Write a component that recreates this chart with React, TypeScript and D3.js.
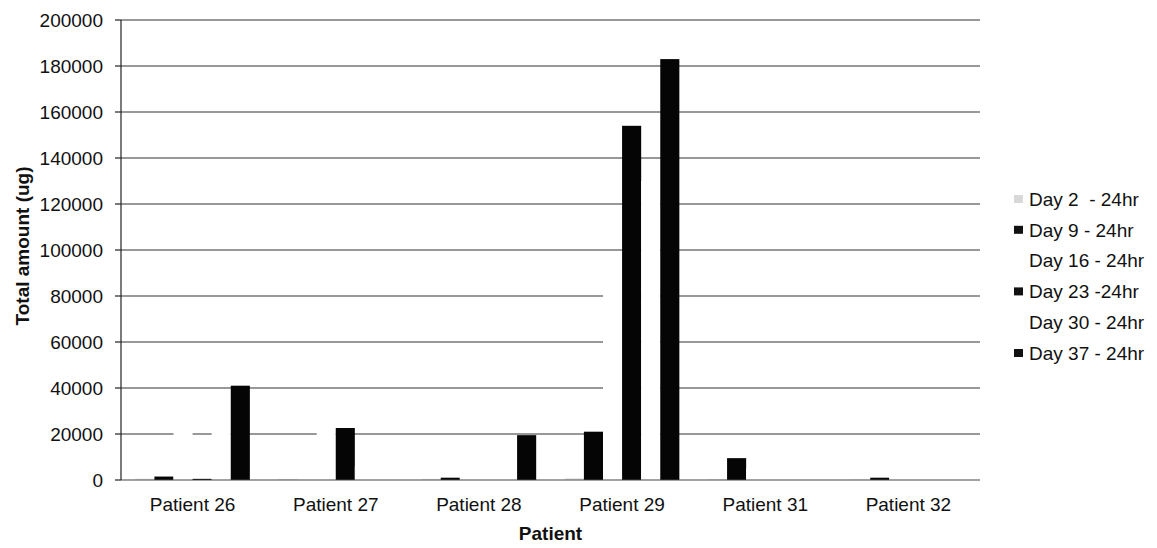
import React from 'react'
import * as d3 from 'd3'

const patients = ['Patient 26', 'Patient 27', 'Patient 28', 'Patient 29', 'Patient 31', 'Patient 32']
const seriesNames = ['Day 2  - 24hr', 'Day 9 - 24hr', 'Day 16 - 24hr', 'Day 23 -24hr', 'Day 30 - 24hr', 'Day 37 - 24hr']
const seriesColors = ['#e6e6e6', '#050505', '#ffffff', '#050505', '#ffffff', '#050505']
const markerColors = ['#d8d8d8', '#111111', 'none', '#111111', 'none', '#111111']

// values per patient (ug)
const day2 = [600, 400, 500, 800, 300, 200]
const day9 = [1500, 0, 1000, 21000, 9500, 1000]
const day16 = [26000, 21000, 8000, 90000, 5000, 3000]
const day23 = [500, 22600, 0, 154000, 0, 0]
const day30 = [24000, 6000, 4000, 130000, 3000, 2000]
const day37 = [41000, 0, 19500, 183000, 0, 0]
const yTicks = [0, 20000, 40000, 60000, 80000, 100000, 120000, 140000, 160000, 180000, 200000]

const series = [day2, day9, day16, day23, day30, day37]

const W = 1157
const H = 548
const margin = { left: 121, right: 177, top: 20, bottom: 68 }
const font = '"Liberation Sans", Arial, sans-serif'

const App = () => {
  const x0 = d3.scaleBand().domain(patients).range([margin.left, W - margin.right]).padding(0)
  const bw = x0.bandwidth()
  const x1 = d3
    .scaleBand()
    .domain(series.map((_, i) => String(i)))
    .range([bw * 0.1, bw * 0.9])
    .padding(0)
  const y = d3.scaleLinear().domain([0, 200000]).range([H - margin.bottom, margin.top])

  const legendY = d3.scaleLinear().domain([0, 5]).range([199, 353])

  return (
    <svg
      width={W}
      height={H}
      style={{ position: 'absolute', left: 0, top: 0, background: '#fff' }}
    >
      {/* grid */}
      {yTicks.slice(1).map((t) => (
        <line
          key={'g' + t}
          x1={margin.left}
          x2={W - margin.right}
          y1={y(t)}
          y2={y(t)}
          stroke="#333"
          strokeWidth={1.2}
        />
      ))}
      {/* bars */}
      {patients.map((p, pi) => (
        <g key={p} transform={`translate(${x0(p)},0)`}>
          {series.map((s, si) => (
            <rect
              key={si}
              x={x1(String(si))}
              y={y(s[pi])}
              width={x1.bandwidth()}
              height={y(0) - y(s[pi])}
              fill={seriesColors[si]}
            />
          ))}
        </g>
      ))}
      {/* axes */}
      <line x1={margin.left} x2={margin.left} y1={y(200000)} y2={y(0)} stroke="#222" strokeWidth={1.2} />
      <line x1={margin.left} x2={W - margin.right} y1={y(0)} y2={y(0)} stroke="#444" strokeWidth={1.2} />
      {yTicks.map((t) => (
        <g key={'t' + t}>
          <line x1={margin.left - 6} x2={margin.left} y1={y(t)} y2={y(t)} stroke="#222" strokeWidth={1.2} />
          <text
            x={margin.left - 18}
            y={y(t)}
            dy="0.36em"
            textAnchor="end"
            fontFamily={font}
            fontSize={19}
            fill="#111"
          >
            {t}
          </text>
        </g>
      ))}
      {patients.map((p) => (
        <text
          key={'l' + p}
          x={(x0(p) || 0) + bw / 2}
          y={511}
          textAnchor="middle"
          fontFamily={font}
          fontSize={19}
          fill="#111"
        >
          {p}
        </text>
      ))}
      <text
        x={(margin.left + W - margin.right) / 2}
        y={540}
        textAnchor="middle"
        fontFamily={font}
        fontWeight="bold"
        fontSize={19}
        fill="#111"
      >
        Patient
      </text>
      <text
        transform={`translate(29,${246}) rotate(-90)`}
        textAnchor="middle"
        fontFamily={font}
        fontWeight="bold"
        fontSize={19}
        fill="#111"
      >
        Total amount (ug)
      </text>
      {/* legend */}
      {seriesNames.map((n, i) => (
        <g key={n} transform={`translate(1014,${legendY(i)})`}>
          {markerColors[i] !== 'none' && (
            <rect x={0} y={-4} width={9} height={8} fill={markerColors[i]} />
          )}
          <text
            x={15}
            y={0}
            dy="0.36em"
            fontFamily={font}
            fontSize={19}
            fill="#111"
            style={{ whiteSpace: 'pre' }}
          >
            {n}
          </text>
        </g>
      ))}
    </svg>
  )
}

export default App
